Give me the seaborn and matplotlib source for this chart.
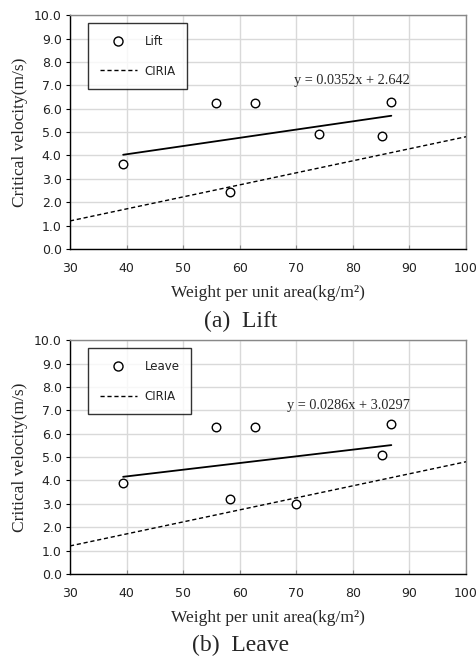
import numpy as np
import pandas as pd
import matplotlib
matplotlib.use("Agg")
import matplotlib.pyplot as plt
import seaborn as sns
from matplotlib.lines import Line2D

lift_w = [39.4, 55.8, 58.2, 62.7, 74.0, 85.2, 86.8]
lift_v = [3.65, 6.25, 2.45, 6.25, 4.9, 4.85, 6.3]
leave_w = [39.4, 55.8, 58.2, 62.7, 70.0, 85.2, 86.8]
leave_v = [3.9, 6.3, 3.2, 6.3, 3.0, 5.1, 6.4]

# Linear trend coefficients shown on chart
lift_fit = (0.0352, 2.642)
leave_fit = (0.0286, 3.0297)

# CIRIA reference line
ciria_w = [30, 100]
ciria_v = [1.2, 4.8]

sns.set_style("white")
serif = "Liberation Serif"
sans = "DejaVu Sans"

fig = plt.figure(figsize=(4.76, 6.57), dpi=100)
ax_top = fig.add_axes([0.147, 0.621, 0.832, 0.356])
ax_bot = fig.add_axes([0.147, 0.1263, 0.832, 0.356])

panels = [
    (ax_top, lift_w, lift_v, lift_fit, "Lift", "(a)  Lift", "y = 0.0352x + 2.642", 0.510),
    (ax_bot, leave_w, leave_v, leave_fit, "Leave", "(b)  Leave", "y = 0.0286x + 3.0297", 0.018),
]

for ax, w, v, fit, name, caption, eq, cap_y in panels:
    df = pd.DataFrame({"w": w, "v": v})
    sns.lineplot(x=ciria_w, y=ciria_v, ax=ax, color="black", lw=1.0,
                 linestyle=(0, (3, 2)), zorder=3)
    xs = np.array([min(w), max(w)])
    sns.lineplot(x=xs, y=fit[0] * xs + fit[1], ax=ax, color="black", lw=1.3, zorder=3)
    sns.scatterplot(data=df, x="w", y="v", ax=ax, marker="o", s=38,
                    facecolor="white", edgecolor="black", linewidth=1.0, zorder=4)

    ax.set_xlim(30, 100)
    ax.set_ylim(0, 10)
    ax.set_xticks(range(30, 101, 10))
    ax.set_yticks(np.arange(0, 10.1, 1.0))
    ax.set_yticklabels([f"{t:.1f}" for t in np.arange(0, 10.1, 1.0)])
    ax.grid(True, color="#d9d9d9", lw=1.0)
    ax.set_axisbelow(True)
    for s in ax.spines.values():
        s.set_color("black")
        s.set_linewidth(1.0)
    ax.spines["right"].set_color("#888888")
    ax.spines["top"].set_color("#888888")
    ax.tick_params(axis="y", direction="out", length=3, left=True, color="black", pad=3)
    ax.tick_params(axis="x", direction="in", length=3, bottom=True, color="#888888", pad=9)
    for lab in ax.get_xticklabels() + ax.get_yticklabels():
        lab.set_fontfamily(sans)
        lab.set_fontsize(9)
        lab.set_color("#222222")

    ax.set_xlabel("Weight per unit area(kg/m²)", fontfamily=serif, fontsize=12.5)
    ax.xaxis.label.set_verticalalignment("center")
    ax.xaxis.set_label_coords(0.5, -0.186)
    ax.set_ylabel("Critical velocity(m/s)", fontfamily=serif, fontsize=12.5, labelpad=4)
    ax.text(90, 7.2, eq, fontfamily=serif, fontsize=10.3, ha="right", va="center")
    fig.text(0.506, cap_y, caption, fontfamily=serif, fontsize=17, ha="center", va="center")

    handles = [
        Line2D([], [], marker="o", linestyle="none", markerfacecolor="white",
               markeredgecolor="black", markersize=6.5),
        Line2D([], [], color="black", lw=1.0, linestyle=(0, (3, 2))),
    ]
    leg = ax.legend(handles, [name, "CIRIA"], loc="upper left", bbox_to_anchor=(0.045, 0.965),
                    frameon=True, fancybox=False, edgecolor="black", borderpad=1.0,
                    labelspacing=1.4, handlelength=3.2, handletextpad=0.6,
                    borderaxespad=0, prop={"family": sans, "size": 8.5})
    leg.get_frame().set_linewidth(1.0)
    for t in leg.get_texts():
        t.set_color("#222222")

fig.savefig("out.png", dpi=100)
